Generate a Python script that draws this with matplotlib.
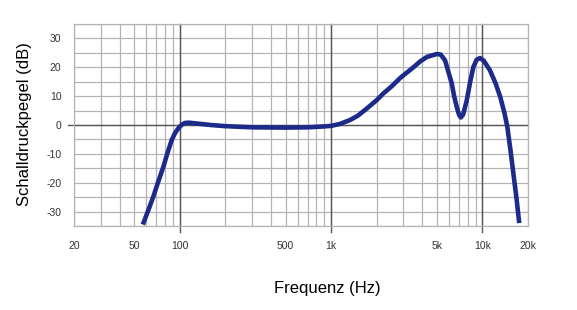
# Frequenzgang (Schalldruckpegel ueber Frequenz)
import matplotlib
matplotlib.use('Agg')
import matplotlib.pyplot as plt
from matplotlib.ticker import FixedLocator, FuncFormatter

plt.rcParams['font.family'] = ['Liberation Sans', 'DejaVu Sans']
plt.rcParams['axes.unicode_minus'] = False

# values
freq = [57, 62, 67, 72, 78, 83, 88.5, 93, 98, 103, 108, 115, 130, 160, 200,
        300, 500, 700, 900, 1000, 1150, 1330, 1500, 1720, 2000, 2210, 2500,
        2860, 3500, 3870, 4300, 5000, 5300, 5660, 5950, 6270, 6500, 6760,
        7000, 7190, 7450, 7880, 8300, 8710, 9150, 9640, 10200, 11200, 12200,
        13100, 14000, 14600, 15300, 16000, 16800, 17500]
spl = [-34.5, -29.5, -24.7, -19.7, -14.4, -9.6, -5.2, -2.8, -1.1, 0.1, 0.7,
       0.8, 0.5, 0.0, -0.4, -0.8, -0.9, -0.8, -0.5, -0.3, 0.4, 1.7, 3.2,
       5.7, 8.6, 10.9, 13.3, 16.3, 20.0, 22.0, 23.6, 24.6, 24.4, 22.4, 18.5,
       14.4, 10.0, 6.3, 3.6, 2.6, 3.6, 8.6, 15.0, 20.1, 22.6, 23.2, 22.3,
       19.0, 14.5, 9.8, 4.0, -0.6, -8.5, -16.7, -25.5, -34.0]

x_labels = {20: '20', 50: '50', 100: '100', 500: '500', 1000: '1k',
            5000: '5k', 10000: '10k', 20000: '20k'}
y_ticks = [-30, -20, -10, 0, 10, 20, 30]
x_major = [100, 1000, 10000]

grid_c = '#b4b4b4'
major_c = '#555555'
line_c = '#1c2b8a'

fig = plt.figure(figsize=(5.77, 3.10), dpi=100)
ax = fig.add_axes([74/577, 1-226/310, (528-74)/577, (226-24)/310])

ax.set_xscale('log')
ax.set_xlim(20, 20000)
ax.set_ylim(-35, 35)

# grid: all log minor lines + every 5 dB
minor = [m * 10**e for e in range(1, 5) for m in range(1, 10)]
minor = [v for v in minor if 20 <= v <= 20000]
ax.xaxis.set_major_locator(FixedLocator(list(x_labels.keys())))
ax.xaxis.set_major_formatter(FuncFormatter(lambda v, p: x_labels.get(int(round(v)), '')))
ax.xaxis.set_minor_locator(FixedLocator(minor))
ax.xaxis.set_minor_formatter(FuncFormatter(lambda v, p: ''))
ax.yaxis.set_major_locator(FixedLocator(y_ticks))
ax.yaxis.set_minor_locator(FixedLocator(list(range(-35, 36, 5))))

ax.grid(True, which='both', axis='both', color=grid_c, lw=0.9)
ax.tick_params(which='both', length=0, labelsize=7.5, labelcolor='#333333')
ax.tick_params(axis='x', pad=11)
ax.tick_params(axis='y', pad=9)
for s in ax.spines.values():
    s.set_color(grid_c)
    s.set_linewidth(0.9)

# darker reference lines, sticking out of the frame a little
for f in x_major:
    ax.axvline(f, ymin=-0.03, ymax=1, color=major_c, lw=1.0, clip_on=False, zorder=2)
ax.axhline(0, xmin=-0.013, xmax=1, color=major_c, lw=1.0, clip_on=False, zorder=2)

ax.plot(freq, spl, color=line_c, lw=3.3, solid_joinstyle='round',
        solid_capstyle='butt', zorder=3)

ax.set_ylabel('Schalldruckpegel (dB)', fontsize=12)
ax.yaxis.set_label_coords(-0.092, 0.505)
ax.set_xlabel('Frequenz (Hz)', fontsize=12)
ax.xaxis.set_label_coords(0.557, -0.272)

fig.savefig('out.png', dpi=100)
